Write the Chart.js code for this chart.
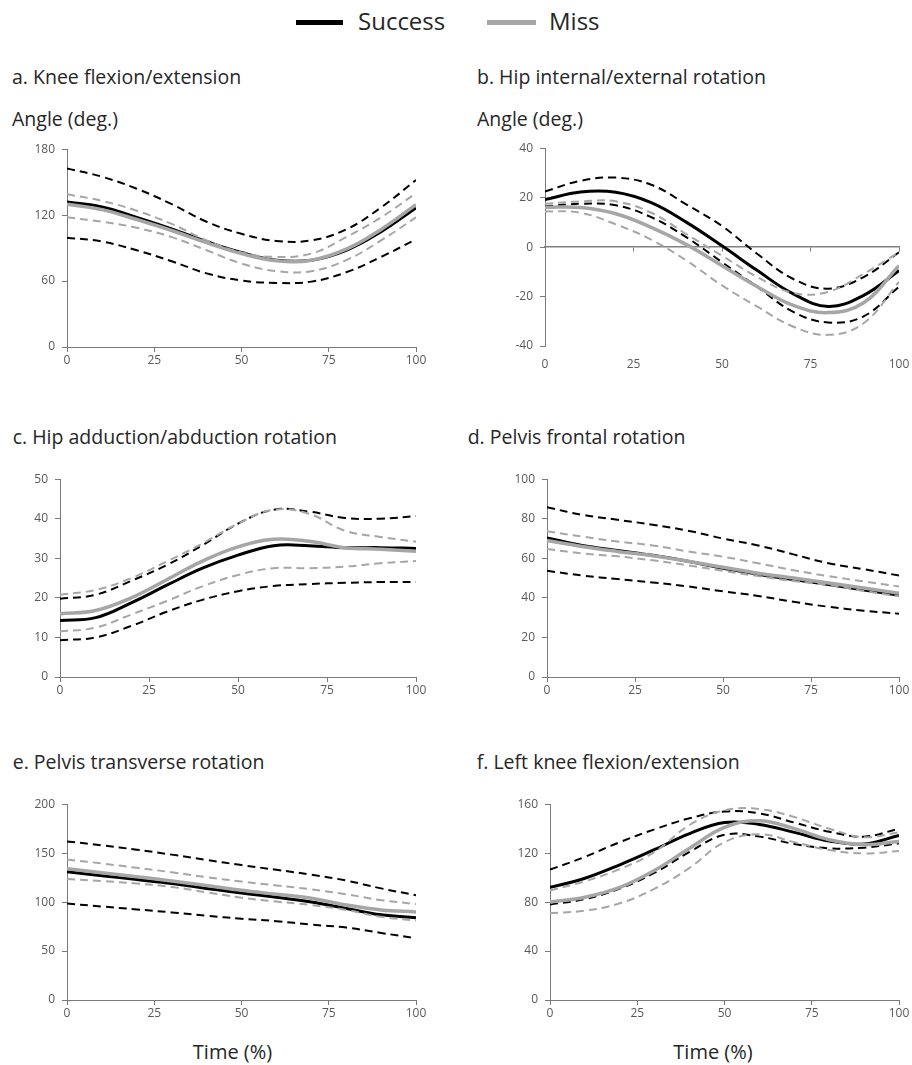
<!DOCTYPE html>
<html>
<head>
<meta charset="utf-8">
<script src="https://cdn.jsdelivr.net/npm/chart.js@4.4.1/dist/chart.umd.min.js"></script>
<style>
  html, body { margin: 0; padding: 0; background: #fff; }
  body { width: 912px; height: 1065px; position: relative; overflow: hidden;
         font-family: 'Open Sans', sans-serif; color: #262626; }
  .t { position: absolute; white-space: nowrap; line-height: 1; font-size: 19.5px; }
  .axis-x { position: absolute; white-space: nowrap; line-height: 1; font-size: 20px; transform: translateX(-50%); }
  .legend-text { position: absolute; white-space: nowrap; line-height: 1; font-size: 24px; }
  .swatch { position: absolute; height: 5px; }
  canvas { position: absolute; }
</style>
</head>
<body>

<!-- legend -->
<div class="swatch" style="left:296px; top:19.5px; width:47px; background:#000;"></div>
<div class="legend-text" style="left:358px; top:8.7px;">Success</div>
<div class="swatch" style="left:487px; top:19.5px; width:49px; background:#a6a6a6;"></div>
<div class="legend-text" style="left:549px; top:8.7px;">Miss</div>

<!-- panel titles -->
<div class="t" style="left:12px; top:66.7px;">a. Knee flexion/extension</div>
<div class="t" style="left:12px; top:108.7px;">Angle (deg.)</div>
<div class="t" style="left:477px; top:66.7px;">b. Hip internal/external rotation</div>
<div class="t" style="left:477px; top:108.7px;">Angle (deg.)</div>
<div class="t" style="left:12.7px; top:426.7px;">c. Hip adduction/abduction rotation</div>
<div class="t" style="left:467.7px; top:426.7px;">d. Pelvis frontal rotation</div>
<div class="t" style="left:12.7px; top:751.7px;">e. Pelvis transverse rotation</div>
<div class="t" style="left:476.7px; top:751.7px;">f. Left knee flexion/extension</div>
<div class="axis-x" style="left:232.5px; top:1042.2px;">Time (%)</div>
<div class="axis-x" style="left:713px; top:1042.2px;">Time (%)</div>

<script>
// Normalised time axis (% of movement)
const timePct = [0, 10, 20, 30, 40, 50, 60, 70, 80, 90, 100];
const xTickStep = 25;

// a. Knee flexion/extension
const kneeSuccessMean  = [132, 127.5, 118, 107.5, 96, 86, 79, 79, 88, 105, 126.5];
const kneeSuccessUpper = [162.5, 155, 144, 130, 114, 103, 96.5, 97, 107, 127, 152];
const kneeSuccessLower = [99.5, 96, 88, 78, 67, 60.5, 58.3, 59.5, 68, 82, 98];
const kneeMissMean     = [130, 125, 116, 106, 95, 85, 78.5, 79, 89, 107, 129.5];
const kneeMissUpper    = [139, 133, 124, 112, 97, 86, 82, 85, 100, 118, 140];
const kneeMissLower    = [118, 114, 108.5, 100, 88, 76, 69, 69, 79, 97, 118];

// b. Hip internal/external rotation
const hipRotSuccessMean  = [19.2, 22.3, 22.2, 18, 10, 0.5, -9.5, -18.8, -24, -19.5, -9.5];
const hipRotSuccessUpper = [22.5, 26.8, 28.1, 25.2, 17.2, 8.5, -2.8, -12.8, -16.8, -12.1, -2.1];
const hipRotSuccessLower = [16.5, 17.5, 16.9, 12.1, 3.9, -6.1, -16.1, -26.1, -30.5, -28, -16];
const hipRotMissMean     = [16.1, 16, 13.5, 8, 1, -7.5, -16, -23.5, -26.5, -22.5, -7.5];
const hipRotMissUpper    = [17.5, 18.5, 18.5, 13.9, 5.2, -3.5, -12.1, -18.5, -18.1, -10.8, -2.1];
const hipRotMissLower    = [14.5, 13.9, 9.2, 3, -5.5, -15.5, -24.1, -32.1, -35.5, -30.8, -14.1];

// c. Hip adduction/abduction rotation
const hipAddSuccessMean  = [14.3, 15, 18.75, 23.2, 27.5, 30.8, 33.2, 33.2, 32.7, 32.7, 32.5];
const hipAddSuccessUpper = [19.75, 20.8, 24.3, 28.3, 33.3, 38.75, 42.3, 41.8, 40.2, 40, 40.7];
const hipAddSuccessLower = [9.3, 10, 12.9, 16.5, 19.5, 21.7, 23, 23.5, 23.8, 24, 24];
const hipAddMissMean     = [16, 16.8, 20, 24.6, 29.3, 32.9, 34.8, 34.3, 32.7, 32.3, 31.8];
const hipAddMissUpper    = [20.8, 22, 25, 29.2, 33.75, 38.75, 42.3, 41.25, 37, 35.4, 34.2];
const hipAddMissLower    = [11.5, 12.5, 15.8, 19.2, 22.9, 25.8, 27.5, 27.5, 27.9, 28.75, 29.3];

// d. Pelvis frontal rotation
const pelvisFrSuccessMean  = [70.3, 66.5, 64, 61.5, 58.5, 55, 52, 49.3, 46.7, 44, 41.3];
const pelvisFrSuccessUpper = [85.8, 82, 79.5, 77, 74, 70, 66.5, 62, 57.5, 54.5, 51.3];
const pelvisFrSuccessLower = [53.7, 51.3, 49.5, 47.8, 45.8, 43.3, 41, 38, 35.5, 33.5, 32];
const pelvisFrMissMean     = [69, 66, 63.5, 61.3, 58.5, 55.5, 52.5, 50, 47.5, 45, 42.3];
const pelvisFrMissUpper    = [73.7, 71, 68.5, 66.5, 63.5, 60.8, 57.5, 54, 51, 48.3, 45.8];
const pelvisFrMissLower    = [64.7, 62.5, 61, 59, 56.5, 53.7, 51, 48.5, 46.5, 43.5, 40.8];

// e. Pelvis transverse rotation
const pelvisTrSuccessMean  = [131, 127, 123, 119, 114, 109.2, 105, 100, 93.5, 87, 84];
const pelvisTrSuccessUpper = [162, 158, 153.5, 148.5, 143, 137.8, 133, 128, 122, 114, 107];
const pelvisTrSuccessLower = [98.5, 95.5, 92.5, 89.5, 86, 83, 80.5, 77, 74, 68.5, 63];
const pelvisTrMissMean     = [134, 130, 126, 121.5, 117, 112, 108, 104, 97, 92, 90];
const pelvisTrMissUpper    = [143.5, 139.5, 135, 130.5, 125.5, 121, 117, 113, 108, 102, 98];
const pelvisTrMissLower    = [123.7, 121.5, 119, 115.5, 110, 104.5, 100.5, 97, 92, 85, 81];

// f. Left knee flexion/extension
const leftKneeSuccessMean  = [92, 99.5, 110.5, 123, 136, 145, 143.5, 137, 130, 127.5, 134.5];
const leftKneeSuccessUpper = [106.5, 117, 129, 139.5, 148.5, 154, 152.5, 145, 137.5, 133.5, 140];
const leftKneeSuccessLower = [78, 82.5, 91, 104, 121, 135, 133.5, 127.5, 124, 124.5, 128];
const leftKneeMissMean     = [80, 84, 92, 106, 124, 141, 146.5, 140, 131, 127, 129.5];
const leftKneeMissUpper    = [89.5, 97, 107, 121, 143, 155, 156, 149.5, 140, 133, 137];
const leftKneeMissLower    = [71, 73, 79, 91, 108, 129, 135.5, 129, 122.5, 119.8, 121.7];

// y-axis ranges [min, max, step] per panel
const yRangeA = [0, 180, 60];
const yRangeB = [-40, 40, 20];
const yRangeC = [0, 50, 10];
const yRangeD = [0, 100, 20];
const yRangeE = [0, 200, 50];
const yRangeF = [0, 160, 40];

const SUCCESS = '#000000';
const MISS = '#a6a6a6';
const AXIS = '#7a7a7a';
const TICK_TEXT = '#595959';

Chart.defaults.font.family = "'Open Sans', sans-serif";

function pts(vals) { return vals.map((v, i) => ({ x: timePct[i], y: v })); }

function line(vals, color, kind) {
  const mean = kind === 'mean';
  return {
    data: pts(vals),
    borderColor: color,
    borderWidth: mean ? (color === MISS ? 3.5 : 3) : 2,
    borderDash: mean ? [] : [8, 5],
    pointRadius: 0,
    tension: 0.4,
    fill: false
  };
}

// plot-area box on the page (left, right, top, bottom) for each panel
const panels = [
  { box: [67, 416, 147, 347], y: yRangeA, zeroAxis: false,
    s: [kneeSuccessMean, kneeSuccessUpper, kneeSuccessLower],
    m: [kneeMissMean, kneeMissUpper, kneeMissLower] },
  { box: [545, 899, 146, 346], y: yRangeB, zeroAxis: true,
    s: [hipRotSuccessMean, hipRotSuccessUpper, hipRotSuccessLower],
    m: [hipRotMissMean, hipRotMissUpper, hipRotMissLower] },
  { box: [60, 416, 477, 677], y: yRangeC, zeroAxis: false,
    s: [hipAddSuccessMean, hipAddSuccessUpper, hipAddSuccessLower],
    m: [hipAddMissMean, hipAddMissUpper, hipAddMissLower] },
  { box: [547, 899, 477, 677], y: yRangeD, zeroAxis: false,
    s: [pelvisFrSuccessMean, pelvisFrSuccessUpper, pelvisFrSuccessLower],
    m: [pelvisFrMissMean, pelvisFrMissUpper, pelvisFrMissLower] },
  { box: [67, 416, 802, 1000], y: yRangeE, zeroAxis: false,
    s: [pelvisTrSuccessMean, pelvisTrSuccessUpper, pelvisTrSuccessLower],
    m: [pelvisTrMissMean, pelvisTrMissUpper, pelvisTrMissLower] },
  { box: [550, 899, 802, 1000], y: yRangeF, zeroAxis: false,
    s: [leftKneeSuccessMean, leftKneeSuccessUpper, leftKneeSuccessLower],
    m: [leftKneeMissMean, leftKneeMissUpper, leftKneeMissLower] }
];

const PAD_L = 50, PAD_T = 12, PAD_R = 24, PAD_B = 30;
const tickFont = { size: 12 };

panels.forEach(p => {
  const [L, R, T, B] = p.box;
  const w = R - L + PAD_L + PAD_R;
  const h = B - T + PAD_T + PAD_B;
  const cv = document.createElement('canvas');
  cv.width = w; cv.height = h;
  cv.style.width = w + 'px'; cv.style.height = h + 'px';
  cv.style.left = (L - PAD_L) + 'px';
  cv.style.top = (T - PAD_T) + 'px';
  document.body.appendChild(cv);

  // first dataset is drawn on top: Miss series over Success series
  const datasets = [
    line(p.m[2], MISS, 'sd'),
    line(p.m[1], MISS, 'sd'),
    line(p.m[0], MISS, 'mean'),
    line(p.s[2], SUCCESS, 'sd'),
    line(p.s[1], SUCCESS, 'sd'),
    line(p.s[0], SUCCESS, 'mean')
  ];

  const scales = {
    x: {
      type: 'linear', min: 0, max: 100,
      ticks: { stepSize: xTickStep, color: TICK_TEXT, font: tickFont,
               padding: p.zeroAxis ? 11 : 1, maxRotation: 0 },
      grid: { display: true, drawOnChartArea: false, drawTicks: !p.zeroAxis,
              tickLength: 5, color: AXIS },
      border: { display: !p.zeroAxis, color: AXIS, width: 1 },
      afterFit: s => { s.height = PAD_B; }
    },
    y: {
      type: 'linear', min: p.y[0], max: p.y[1],
      ticks: { stepSize: p.y[2], color: TICK_TEXT, font: tickFont, padding: 7 },
      grid: { display: true, drawOnChartArea: false, drawTicks: true,
              tickLength: 5, color: AXIS },
      border: { display: true, color: AXIS, width: 1 },
      afterFit: s => { s.width = PAD_L; }
    }
  };
  if (p.zeroAxis) {
    // horizontal axis line crossing at zero
    scales.x0 = {
      type: 'linear', axis: 'x', position: { y: 0 }, min: 0, max: 100,
      ticks: { display: false, stepSize: xTickStep },
      grid: { display: true, drawOnChartArea: false, drawTicks: true,
              tickLength: 4, color: AXIS },
      border: { display: true, color: '#808080', width: 1.5 }
    };
  }

  new Chart(cv, {
    type: 'line',
    data: { datasets },
    options: {
      responsive: false,
      animation: false,
      devicePixelRatio: 1,
      events: [],
      layout: { padding: { left: 0, top: PAD_T, right: PAD_R, bottom: 0 } },
      plugins: { legend: { display: false }, tooltip: { enabled: false } },
      scales
    }
  });
});
</script>
</body>
</html>
